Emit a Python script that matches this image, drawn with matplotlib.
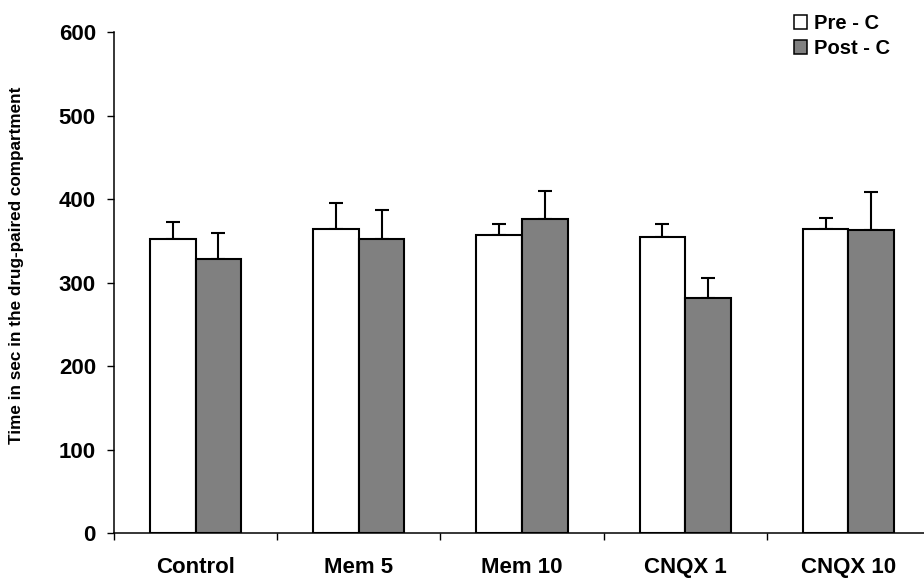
import numpy as np
import matplotlib
matplotlib.use("Agg")
import matplotlib.pyplot as plt
from matplotlib.patches import Patch

plt.rcParams["font.family"] = ["Liberation Sans", "DejaVu Sans"]
plt.rcParams["font.weight"] = "bold"

# Time spent in the drug-paired compartment (mean + SEM)
groups = ["Control", "Mem 5", "Mem 10", "CNQX 1", "CNQX 10"]
pre_c = [352, 365, 357, 355, 365]
pre_err = [21, 30, 14, 16, 13]
post_c = [328, 353, 376, 282, 363]
post_err = [32, 34, 34, 24, 46]

W, H = 924, 584
fig = plt.figure(figsize=(W / 100, H / 100), dpi=100)
ax = fig.add_axes([114 / W, (H - 533.3) / H, 816 / W, (533.3 - 32.3) / H])

x = np.arange(len(groups)) + 0.5
bw = 0.28
lw = 1.5

ax.bar(x - bw / 2, pre_c, bw, color="white", edgecolor="black", linewidth=lw, zorder=2)
ax.bar(x + bw / 2, post_c, bw, color="#808080", edgecolor="black", linewidth=lw, zorder=2)
ax.errorbar(x - bw / 2, pre_c, yerr=[np.zeros(5), pre_err], fmt="none",
            ecolor="black", elinewidth=lw, capsize=4.8, capthick=lw, zorder=1)
ax.errorbar(x + bw / 2, post_c, yerr=[np.zeros(5), post_err], fmt="none",
            ecolor="black", elinewidth=lw, capsize=4.8, capthick=lw, zorder=1)

ax.set_xlim(0, 5)
ax.set_ylim(0, 600)
ax.set_yticks(np.arange(0, 601, 100))
ax.tick_params(axis="y", length=5, width=1, pad=8, labelsize=16)

# category boundaries as ticks, names centred between them
ax.set_xticks(np.arange(0, 6))
ax.set_xticklabels([])
ax.set_xticks(x, minor=True)
ax.set_xticklabels(groups, minor=True)
ax.tick_params(axis="x", which="major", length=5, width=1)
ax.tick_params(axis="x", which="minor", length=0, pad=17, labelsize=16)

for s in ["top", "right"]:
    ax.spines[s].set_visible(False)
for s in ["left", "bottom"]:
    ax.spines[s].set_linewidth(1.1)

fig.text(17 / W, (H - 265) / H, "Time in sec in the drug-paired compartment",
         rotation=90, ha="center", va="center", fontsize=12.3, fontweight="bold")

handles = [Patch(facecolor="white", edgecolor="black", linewidth=1.1),
           Patch(facecolor="#808080", edgecolor="black", linewidth=1.1)]
fig.legend(handles, ["Pre - C", "Post - C"], loc="upper left",
           bbox_to_anchor=(780 / W, 1.0), frameon=False, fontsize=14.5,
           handlelength=0.65, handleheight=0.65, handletextpad=0.35,
           labelspacing=0.3, borderaxespad=0.3)

fig.savefig("out.png", dpi=100)
